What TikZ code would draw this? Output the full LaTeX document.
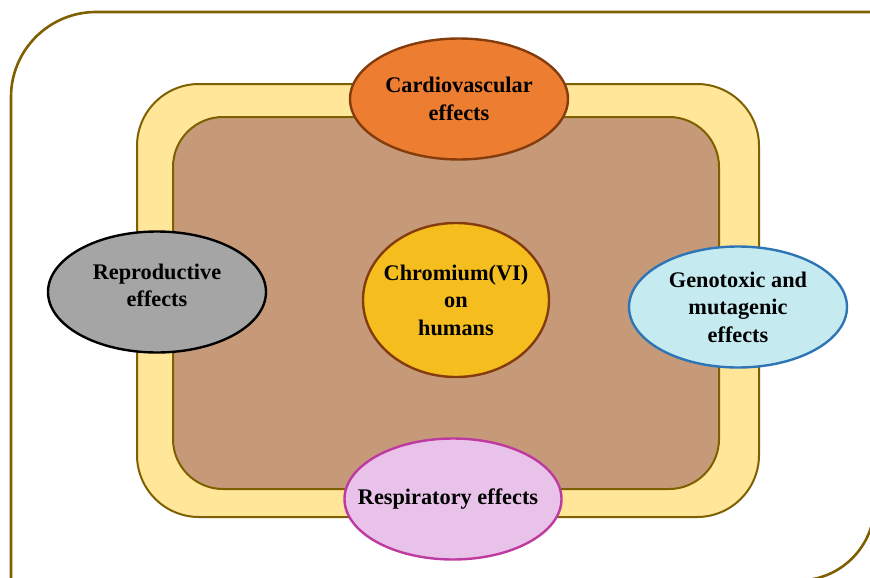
\documentclass[tikz,border=0pt]{standalone}
\usepackage{fontspec}
\setmainfont{Liberation Serif}
\usetikzlibrary{shapes.geometric}
\definecolor{olive}{HTML}{7F6000}
\definecolor{paleyellow}{HTML}{FFE699}
\definecolor{tanbrown}{HTML}{C69A79}
\definecolor{orangefill}{HTML}{ED7D31}
\definecolor{darkbrownline}{HTML}{843C0C}
\definecolor{greyfill}{HTML}{A5A5A5}
\definecolor{goldfill}{HTML}{F6BD1F}
\definecolor{cyanfill}{HTML}{C5EBF0}
\definecolor{blueline}{HTML}{2E75B6}
\definecolor{pinkfill}{HTML}{E8C2E8}
\definecolor{magentaline}{HTML}{BE3AA0}
\tikzset{
  effect/.style={ellipse, draw, line width=2.4pt, inner sep=0pt, outer sep=0pt},
  labtext/.style={align=center, inner sep=0pt,
    font=\fontsize{22.3}{27.5}\selectfont\bfseries, text=black},
  framebox/.style={draw=olive, line width=2pt}
}
\begin{document}
\begin{tikzpicture}[x=1pt,y=-1pt]
\useasboundingbox (0,0) rectangle (870,578);
% outer frame (round diagonal corners)
\draw[olive, line width=2.6pt, rounded corners=85pt]
  (875,12) -- (11,12) -- (11,585);
\draw[olive, line width=2.6pt, rounded corners=76pt]
  (874.5,380) -- (874.5,580.5) -- (650,580.5);
% yellow band and brown core
\draw[framebox, fill=paleyellow, rounded corners=62pt] (137,84) rectangle (759,517);
\draw[framebox, fill=tanbrown, rounded corners=50pt] (173,117) rectangle (719,489);
% ellipses
\node[effect, fill=orangefill, draw=darkbrownline, minimum width=218pt, minimum height=121pt,
  label={[labtext]center:{Cardiovascular\\effects}}]
  (cardio) at (459,99) {};
\node[effect, fill=greyfill, draw=black, minimum width=218pt, minimum height=121pt,
  label={[labtext, yshift=6.5pt]center:{Reproductive\\effects}}]
  (repro) at (157,292) {};
\node[effect, fill=goldfill, draw=darkbrownline, minimum width=186pt, minimum height=154pt,
  label={[labtext]center:{Chromium(VI)\\on\\humans}}]
  (chrom) at (456,300) {};
\node[effect, fill=cyanfill, draw=blueline, minimum width=218pt, minimum height=121pt,
  label={[labtext]center:{Genotoxic and\\mutagenic\\effects}}]
  (geno) at (738,307) {};
\node[effect, fill=pinkfill, draw=magentaline, minimum width=217pt, minimum height=121pt,
  label={[labtext, xshift=-5pt]center:{Respiratory effects}}]
  (resp) at (453,499) {};
\end{tikzpicture}
\end{document}
